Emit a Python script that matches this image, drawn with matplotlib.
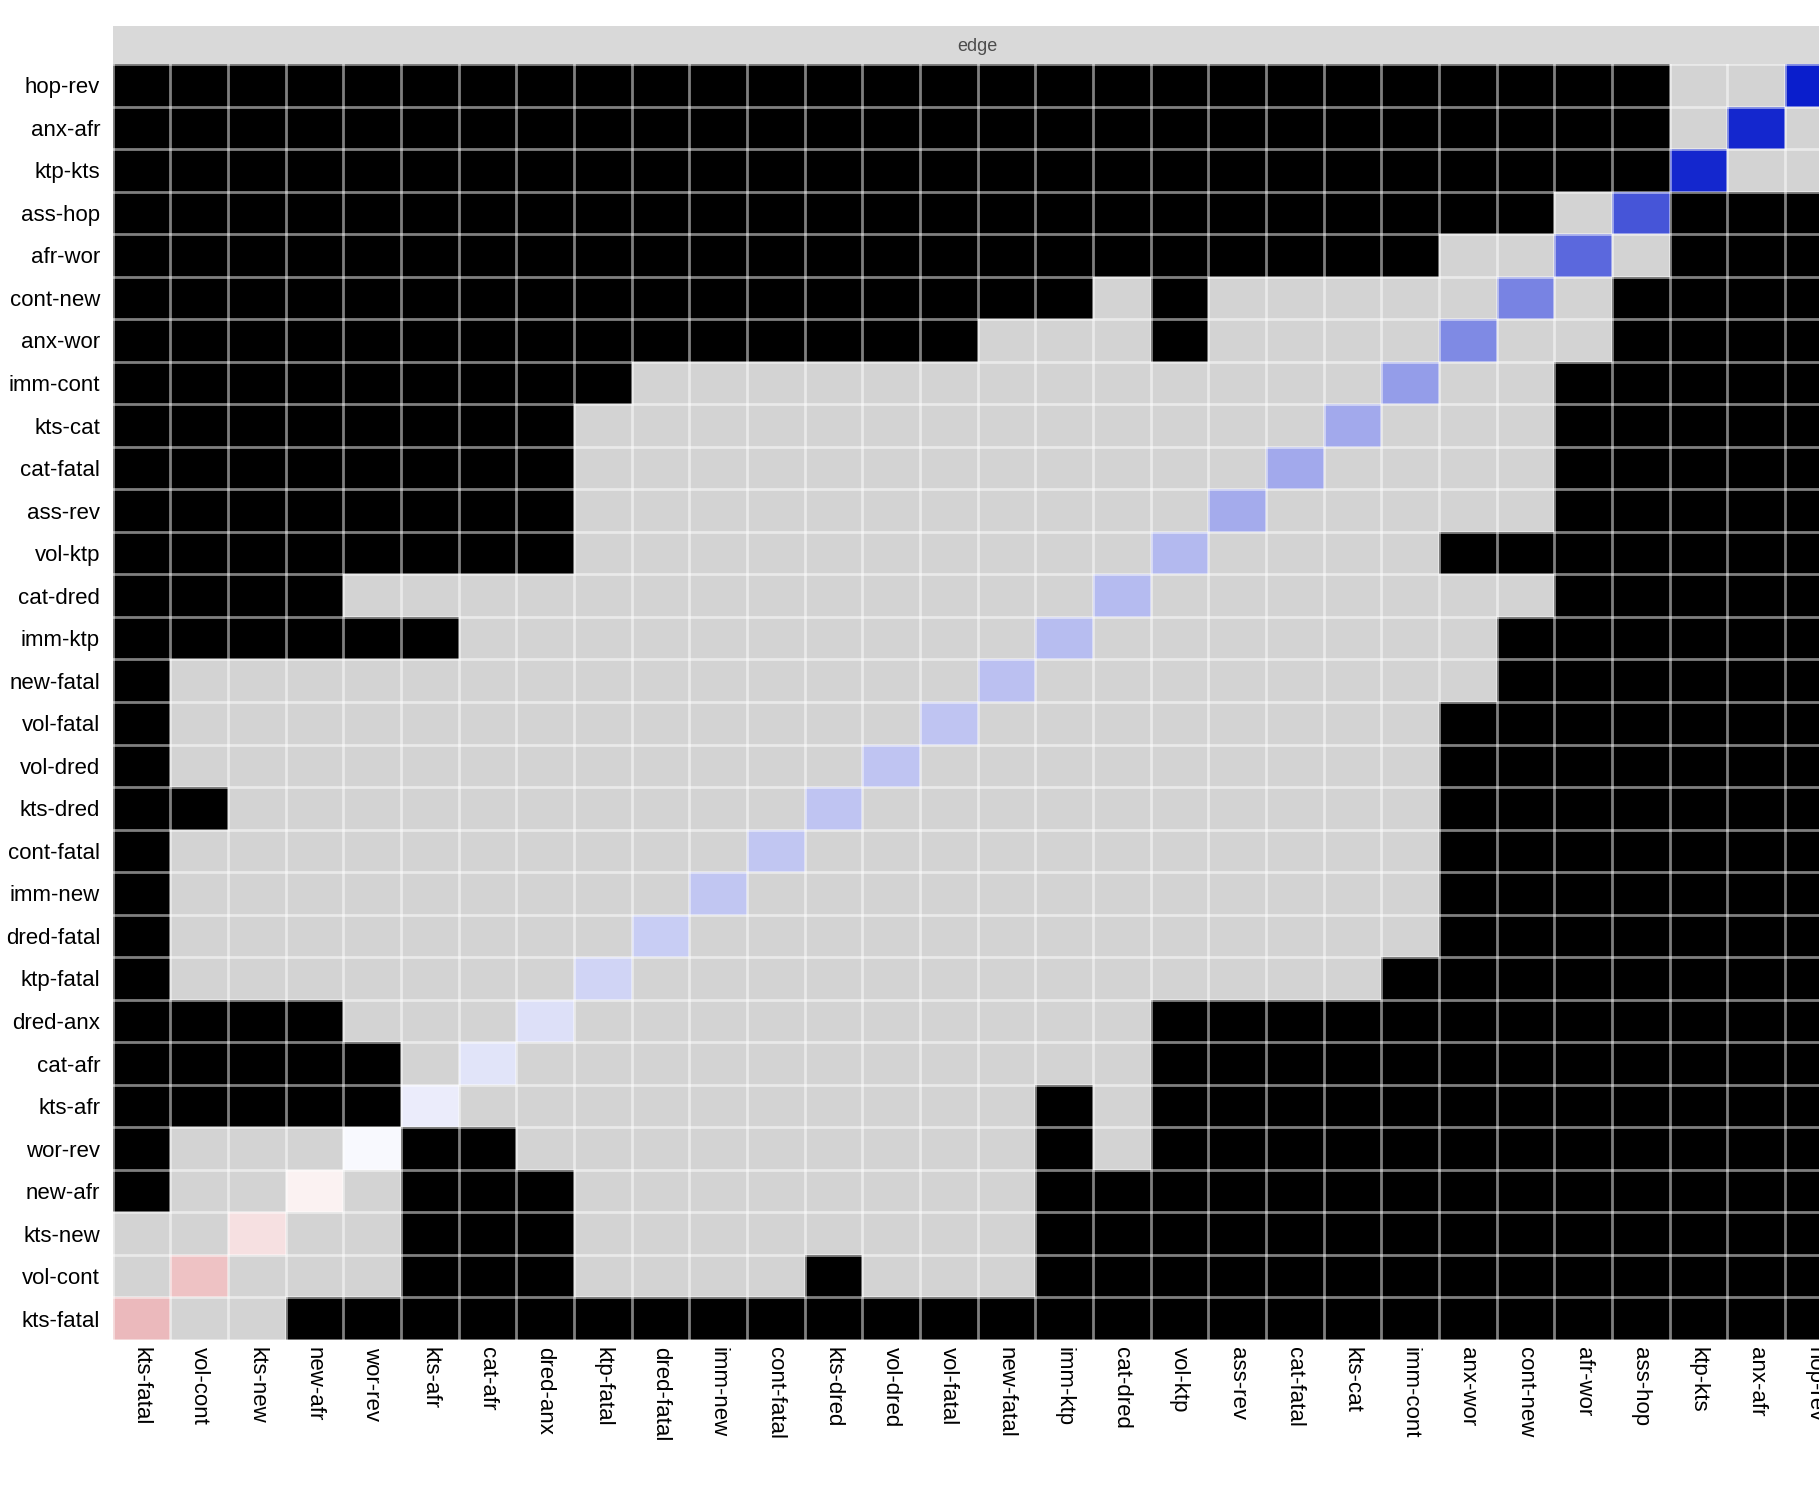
import numpy as np
import matplotlib.pyplot as plt
from matplotlib.colors import ListedColormap, LinearSegmentedColormap, Normalize

plt.rcParams["font.family"] = ["Liberation Sans", "DejaVu Sans"]

# edges along the x axis, left to right; rows use the same edges reversed
edges = [
    "kts-fatal", "vol-cont", "kts-new", "new-afr", "wor-rev", "kts-afr",
    "cat-afr", "dred-anx", "ktp-fatal", "dred-fatal", "imm-new", "cont-fatal",
    "kts-dred", "vol-dred", "vol-fatal", "new-fatal", "imm-ktp", "cat-dred",
    "vol-ktp", "ass-rev", "cat-fatal", "kts-cat", "imm-cont", "anx-wor",
    "cont-new", "afr-wor", "ass-hop", "ktp-kts", "anx-afr", "hop-rev",
]
row_edges = edges[::-1]

# '#' = black cell, '.' = grey cell, 'o' = scored diagonal cell (rows top to bottom)
pattern = [
    "#" * 27 + "..o",
    "#" * 27 + ".o.",
    "#" * 27 + "o..",
    "#" * 25 + ".o" + "#" * 3,
    "#" * 23 + "..o." + "#" * 3,
    "#" * 17 + "." + "#" + "." * 5 + "o." + "#" * 4,
    "#" * 15 + "..." + "#" + "." * 4 + "o.." + "#" * 4,
    "#" * 9 + "." * 13 + "o.." + "#" * 5,
    "#" * 8 + "." * 13 + "o..." + "#" * 5,
    "#" * 8 + "." * 12 + "o...." + "#" * 5,
    "#" * 8 + "." * 11 + "o....." + "#" * 5,
    "#" * 8 + "." * 10 + "o...." + "#" * 7,
    "#" * 4 + "." * 13 + "o......." + "#" * 5,
    "#" * 6 + "." * 10 + "o......." + "#" * 6,
    "#" + "." * 14 + "o........" + "#" * 6,
    "#" + "." * 13 + "o........" + "#" * 7,
    "#" + "." * 12 + "o........." + "#" * 7,
    "##" + "." * 10 + "o.........." + "#" * 7,
    "#" + "." * 10 + "o..........." + "#" * 7,
    "#" + "." * 9 + "o............" + "#" * 7,
    "#" + "." * 8 + "o............." + "#" * 7,
    "#" + "." * 7 + "o............." + "#" * 8,
    "#" * 4 + "..." + "o.........." + "#" * 12,
    "#" * 5 + "." + "o..........." + "#" * 12,
    "#" * 5 + "o.........." + "#." + "#" * 12,
    "#" + "..." + "o##" + "." * 9 + "#." + "#" * 12,
    "#" + ".." + "o.###" + "." * 8 + "#" * 14,
    ".." + "o..###" + "." * 8 + "#" * 14,
    "." + "o...###" + "...." + "#..." + "#" * 14,
    "o.." + "#" * 27,
]

# diagonal score per edge, same order as `edges`
diag_score = [
    -0.31, -0.27, -0.14, -0.055, 0.03, 0.08, 0.12, 0.14, 0.19, 0.22,
    0.25, 0.25, 0.265, 0.265, 0.265, 0.28, 0.29, 0.30, 0.31, 0.37,
    0.375, 0.375, 0.43, 0.52, 0.55, 0.67, 0.755, 0.955, 0.955, 1.0,
]

n = len(edges)
status = np.array([[0 if ch == "#" else 1 for ch in row] for row in pattern])
score = np.full((n, n), np.nan)
for r, row in enumerate(pattern):
    c = row.index("o")
    score[r, c] = diag_score[c]

W, H = 1819, 1512
fig = plt.figure(figsize=(W / 100, H / 100), dpi=100)
left, strip_top, panel_top, panel_bottom = 112.5, 25.5, 64.0, 1340.0
cell_w = 57.67
ax = fig.add_axes([left / W, 1 - panel_bottom / H, n * cell_w / W,
                   (panel_bottom - panel_top) / H])
strip = fig.add_axes([left / W, 1 - panel_top / H, n * cell_w / W,
                      (panel_top - strip_top) / H])

base_cmap = ListedColormap(["black", "#d3d3d3"])
ax.pcolormesh(np.arange(n + 1), np.arange(n + 1), status,
              cmap=base_cmap, vmin=0, vmax=1)
div_cmap = LinearSegmentedColormap.from_list(
    "rwb", [(0.75, 0.12, 0.15), (1, 1, 1), (0.04, 0.118, 0.80)])
ax.pcolormesh(np.arange(n + 1), np.arange(n + 1), np.ma.masked_invalid(score),
              cmap=div_cmap, norm=Normalize(-1, 1))

ax.set_xlim(0, n)
ax.set_ylim(n, 0)
ax.set_xticks(np.arange(n) + 0.5)
ax.set_xticklabels(edges, rotation=-90, fontsize=16, va="top", ha="center")
ax.set_yticks(np.arange(n) + 0.5)
ax.set_yticklabels(row_edges, fontsize=16, va="center_baseline")
ax.set_xticks(np.arange(n + 1), minor=True)
ax.set_yticks(np.arange(n + 1), minor=True)
ax.tick_params(which="both", length=0)
ax.tick_params(axis="y", pad=9)
ax.tick_params(axis="x", pad=5)
ax.grid(which="minor", color="white", alpha=0.5, linewidth=2.0)
ax.grid(which="major", visible=False)
ax.set_axisbelow(False)
for s in ax.spines.values():
    s.set_visible(False)

strip.set_facecolor("#d9d9d9")
strip.set_xticks([])
strip.set_yticks([])
for s in strip.spines.values():
    s.set_visible(False)
strip.text(0.5, 0.45, "edge", transform=strip.transAxes, ha="center",
           va="center", fontsize=13, color="#4d4d4d")

fig.savefig("out.png", dpi=100)
